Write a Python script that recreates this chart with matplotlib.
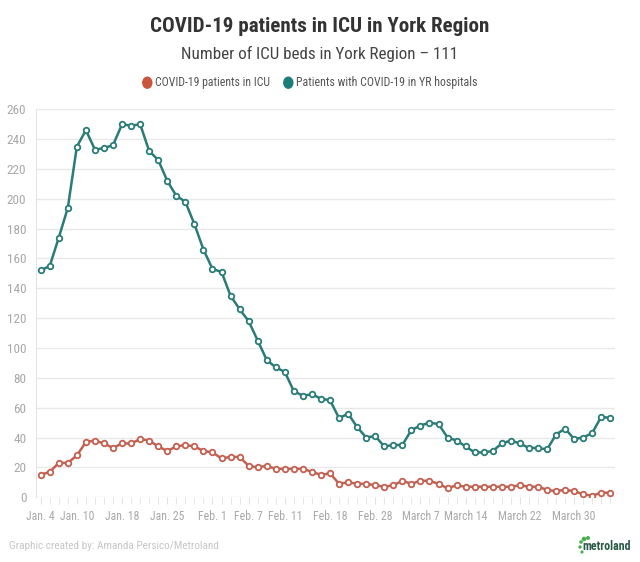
import matplotlib
matplotlib.use("Agg")
import matplotlib.pyplot as plt
from matplotlib import font_manager
from matplotlib.font_manager import FontProperties
from matplotlib.patches import Ellipse
import numpy as np
import os

# ---- data ----
hospital = [152, 155, 174, 194, 235, 246, 233, 234, 236, 250, 249, 250, 232, 226, 212, 202,
            198, 183, 166, 153, 151, 135, 126, 118, 105, 92, 87, 84, 71, 68, 69, 66,
            65, 53, 56, 47, 40, 41, 34, 35, 35, 45, 48, 50, 49, 40, 38, 34,
            30, 30, 31, 36, 38, 36, 33, 33, 32, 42, 46, 39, 40, 43, 54, 53]
icu = [15, 17, 23, 23, 28, 37, 38, 36, 33, 36, 36, 39, 38, 34, 31, 34,
       35, 34, 31, 30, 26, 27, 27, 21, 20, 21, 19, 19, 19, 19, 17, 15,
       16, 9, 10, 9, 9, 8, 7, 8, 11, 9, 11, 11, 9, 6, 8, 7,
       7, 7, 7, 7, 7, 8, 7, 7, 5, 4, 5, 4, 2, 1, 3, 3]
tick_positions = [0, 4, 9, 14, 19, 23, 27, 32, 37, 42, 47, 53, 59]
tick_labels = ["Jan. 4", "Jan. 10", "Jan. 18", "Jan. 25", "Feb. 1", "Feb. 7", "Feb. 11",
               "Feb. 18", "Feb. 28", "March 7", "March 14", "March 22", "March 30"]
yticks = list(range(0, 261, 20))
series_names = ["COVID-19 patients in ICU", "Patients with COVID-19 in YR hospitals"]
title = "COVID-19 patients in ICU in York Region"
subtitle = "Number of ICU beds in York Region \u2013 111"
credit = "Graphic created by: Amanda Persico/Metroland"

RED = "#c4604f"
TEAL = "#2a7c78"
RED_DOT = "#c9553f"
TEAL_DOT = "#1c7d78"


def find_font(bold):
    prefs = ["RobotoCondensed", "Roboto Condensed", "LiberationSansNarrow", "Liberation Sans Narrow",
             "DejaVuSansCondensed", "OpenSansCondensed", "Open Sans Condensed", "Condensed", "Narrow"]
    cands = []
    for f in font_manager.fontManager.ttflist:
        base = os.path.basename(f.fname)
        full = base + " " + f.name
        if not ("Condensed" in full or "Narrow" in full or str(f.stretch) in ("condensed", "semi-condensed")):
            continue
        if "Italic" in base or "Oblique" in base:
            continue
        isbold = (f.weight in ("bold", 700, "700")) or ("Bold" in base and "SemiBold" not in base)
        if isbold != bold:
            continue
        if not bold and any(k in base for k in ("Light", "Thin", "Medium", "Black", "SemiBold", "ExtraBold")):
            continue
        rank = len(prefs)
        for i, p in enumerate(prefs):
            if p in full:
                rank = i
                break
        cands.append((rank, f.fname))
    cands.sort()
    return cands[0][1] if cands else None


fb = find_font(True)
fr = find_font(False)


def fp(bold, size):
    path = fb if bold else fr
    if path:
        return FontProperties(fname=path, size=size)
    return FontProperties(family=["Roboto", "DejaVu Sans"], weight="bold" if bold else "normal", size=size)


fig = plt.figure(figsize=(6.4, 5.62), dpi=100)
fig.patch.set_facecolor("white")
ax = fig.add_axes([36/640, 1-497.2/562, (615-36)/640, (497.2-109.3)/562])

x = np.arange(len(hospital))
ax.plot(x, hospital, color=TEAL, lw=1.8, marker="o", ms=4, mfc="white", mec=TEAL, mew=1.3, zorder=3)
ax.plot(x, icu, color=RED, lw=1.8, marker="o", ms=4, mfc="white", mec=RED, mew=1.3, zorder=3)

ax.set_xlim(-0.52, 63.52)
ax.set_ylim(0, 260)
ax.set_yticks(yticks)
ax.yaxis.grid(True, color="#e9e9e9", lw=1)
ax.set_axisbelow(True)
for s in ["top", "right", "bottom"]:
    ax.spines[s].set_visible(False)
ax.spines["left"].set_color("#e4e4e4")
ax.tick_params(axis="y", length=0, pad=7, labelcolor="#a9a9a9")
ax.set_xticks(x, minor=True)
ax.set_xticks(tick_positions)
ax.set_xticklabels(tick_labels)
ax.tick_params(axis="x", which="both", length=5, color="#e2e2e2", pad=4, labelcolor="#a9a9a9")
for lab in ax.get_yticklabels():
    lab.set_fontproperties(fp(False, 9.5))
for lab in ax.get_xticklabels():
    lab.set_fontproperties(fp(False, 8.5))

fig.canvas.draw()
renderer = fig.canvas.get_renderer()


def fitted_text(xpx, ypx, s, bold, size, target_w, color, ha):
    t = fig.text(xpx/640, 1-ypx/562, s, ha=ha, va="center", color=color, fontproperties=fp(bold, size))
    w = t.get_window_extent(renderer).width
    if target_w and w > 0:
        t.set_fontproperties(fp(bold, size * target_w / w))
    return t


fitted_text(320, 27, title, True, 15, 340, "#333333", "center")
fitted_text(320, 54, subtitle, False, 12.5, 279, "#444444", "center")

# legend
ly = 82.7
fitted_text(155.3, ly, series_names[0], False, 8.5, 115, "#555555", "left")
fitted_text(296, ly, series_names[1], False, 8.5, 180, "#555555", "left")
for cx, col in [(147.3, RED_DOT), (288.3, TEAL_DOT)]:
    fig.patches.append(Ellipse((cx/640, 1-ly/562), 9/640, 11/562, transform=fig.transFigure, color=col))

fitted_text(9, 546, credit, False, 8, 210, "#c6c6c6", "left")
fitted_text(631, 547, "metroland", True, 8.5, 48, "#2a5a48", "right")
for (dx, dy, r) in [(584, 539, 1.6), (588, 538, 1.3), (581, 542, 1.1), (580, 547, 1.0), (582, 552, 0.9)]:
    fig.patches.append(Ellipse((dx/640, 1-dy/562), 2*r/640, 2*r/562, transform=fig.transFigure, color="#4caf50"))

fig.savefig("out.png", dpi=100, facecolor="white")
